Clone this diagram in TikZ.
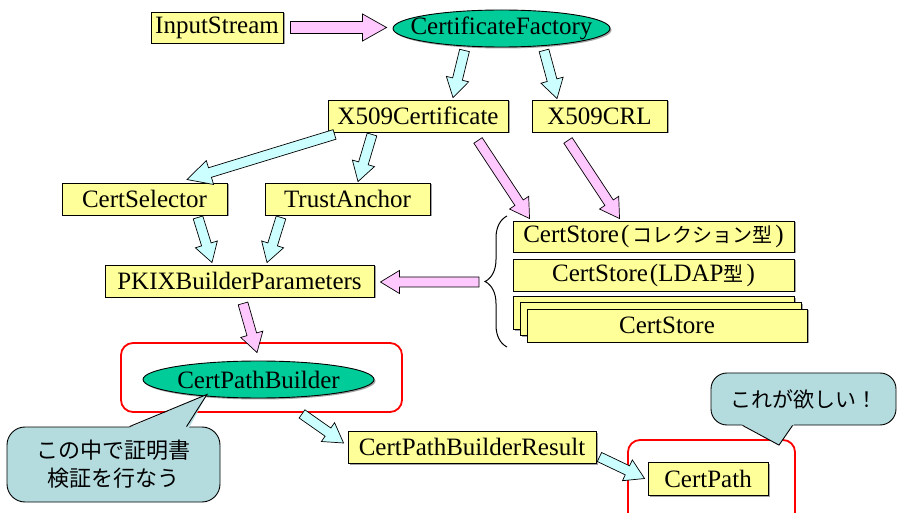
\documentclass[tikz,border=0pt]{standalone}
\usepackage{fontspec}
\setmainfont{Liberation Serif}
\newfontfamily\cjk{Noto Sans CJK JP}
\usetikzlibrary{calc,shadows,shapes.geometric,decorations.pathreplacing}

\definecolor{boxyellow}{HTML}{FFFF99}
\definecolor{classgreen}{HTML}{00CC99}
\definecolor{cyanfill}{HTML}{CCFFFF}
\definecolor{pinkfill}{HTML}{FFC8FF}
\definecolor{notefill}{HTML}{B4DCDF}

% block arrow: shaft half width, head half width, head length
\newcommand\bashaft{5pt}
\newcommand\bahead{11.5pt}
\newcommand\balen{19pt}
\newcommand\blockarrow[3][cyanfill]{%
  \coordinate (ba-s) at #2;
  \coordinate (ba-e) at #3;
  \coordinate (ba-n) at ($(ba-e)!\balen!(ba-s)$);
  \draw[arrowedge, fill=#1]
    ($(ba-s)!\bashaft!90:(ba-e)$) -- ($(ba-n)!\bashaft!-90:(ba-s)$)
    -- ($(ba-n)!\bahead!-90:(ba-s)$) -- (ba-e)
    -- ($(ba-n)!\bahead!90:(ba-s)$) -- ($(ba-n)!\bashaft!90:(ba-s)$)
    -- ($(ba-s)!\bashaft!-90:(ba-e)$) -- cycle;
}

\begin{document}
\begin{tikzpicture}[x=1pt,y=-1pt,
  label font/.style={font=\fontsize{25}{30}\selectfont},
  box/.style={draw, fill=boxyellow, line width=0.9pt, inner sep=0pt,
    minimum height=32pt, label font,
    drop shadow={shadow xshift=1.5pt, shadow yshift=-1.5pt, fill=black!60, opacity=0.6}},
  classoval/.style={ellipse, draw, fill=classgreen, line width=0.9pt, inner sep=0pt,
    drop shadow={shadow xshift=1.5pt, shadow yshift=-1.5pt, fill=black!60, opacity=0.6}},
  ovaltext/.style={label font, inner sep=0pt},
  redframe/.style={draw=red, line width=1.8pt, rounded corners=12pt, inner sep=0pt},
  note/.style={draw, fill=notefill, line width=0.9pt, rounded corners=18pt,
    inner sep=0pt, align=center},
  arrowedge/.style={draw=black, line width=0.7pt, line join=miter},
]
\useasboundingbox (0,0) rectangle (898,513);
\clip (0,0) rectangle (898,513);

% red frames
\node[redframe, minimum width=281pt, minimum height=69pt] (red1) at (261.5,377.5) {};
\node[redframe, minimum width=167pt, minimum height=110pt] (red2) at (711.5,495) {};

% classes
\node[box, minimum width=132pt, minimum height=31pt] (inp) at (217,27.5) {InputStream};
\node[classoval, minimum width=217pt, minimum height=37pt] (fact) at (501.5,28.5) {};
\node[ovaltext] at (fact.center) {CertificateFactory};
\node[box, minimum width=180pt] (x509) at (418,116) {X509Certificate};
\node[box, minimum width=135pt] (crl) at (599.5,116) {X509CRL};
\node[box, minimum width=165pt] (sel) at (144.5,199) {CertSelector};
\node[box, minimum width=165pt] (ta) at (347.5,199) {TrustAnchor};
\node[box, minimum width=269pt] (pkix) at (239.5,281) {PKIXBuilderParameters};

% cert stores
\node[box, minimum width=281pt, minimum height=31pt] (cs1) at (653.5,236.5)
  {CertStore\kern2pt(\kern3pt{\cjk\fontsize{20}{24}\selectfont コレクション型}\kern3pt)};
\node[box, minimum width=281pt] (cs2) at (653.5,275)
  {CertStore\kern2pt(LDAP{\cjk\fontsize{20}{24}\selectfont 型}\kern3pt)};
\node[box, minimum width=281pt, minimum height=33pt] (cs3a) at (653.5,313) {};
\node[box, minimum width=281pt, minimum height=33pt] (cs3b) at (660.5,319) {};
\node[box, minimum width=280pt, minimum height=33pt] (cs3) at (667,325.5) {CertStore};

% brace grouping the stores
\draw[line width=1pt, decorate, decoration={brace, amplitude=22pt}] (507,347) -- (507,216);
\coordinate (bt) at (485,282);

\node[classoval, minimum width=231pt, minimum height=37pt] (cpb) at (258.5,379.5) {};
\node[ovaltext] at (cpb.center) {CertPathBuilder};
\node[box, minimum width=248pt] (cpbr) at (472,447) {CertPathBuilderResult};
\node[box, minimum width=120pt, minimum height=33pt] (cpath) at (708,478.5) {CertPath};

% connectors
{\renewcommand\bashaft{6pt}\renewcommand\bahead{13.5pt}\renewcommand\balen{24pt}%
 \blockarrow[pinkfill]{($(inp.east)+(7,0)$)}{($(fact.west)+(-6,-1)$)}}
\blockarrow{($(fact.south)+(-37,3)$)}{($(x509.north)+(35,-2)$)}
\blockarrow{($(fact.south)+(42.5,3)$)}{($(crl.north)+(-42.5,-1)$)}
{\renewcommand\bahead{12.5pt}\renewcommand\balen{24pt}%
 \blockarrow{($(x509.south west)+(7,2)$)}{($(sel.north)+(42.5,-3)$)}}
\blockarrow{($(x509.south)+(-46,2)$)}{($(ta.north)+(10.5,-1)$)}
\blockarrow[pinkfill]{($(x509.south)+(60,8)$)}{($(cs1.north west)+(17,-2)$)}
\blockarrow[pinkfill]{($(crl.south)+(-31.5,8)$)}{($(cs1.north west)+(107,-2)$)}
\blockarrow{($(sel.south)+(53.5,2)$)}{($(pkix.north)+(-27.5,-2)$)}
\blockarrow{($(ta.south)+(-66.5,2)$)}{($(pkix.north)+(27.5,-2)$)}
\blockarrow[pinkfill]{($(bt)+(-6,0)$)}{($(pkix.east)+(6,1)$)}
\blockarrow[pinkfill]{($(pkix.south)+(3.5,6)$)}{($(cpb.north)+(-1.5,-8)$)}
\blockarrow{($(red1.south)+(40.5,1)$)}{($(cpbr.west)+(-4,-4)$)}
\blockarrow{($(cpbr.east)+(3,10)$)}{($(cpath.west)+(-3,0)$)}

% speech balloons
\node[note, minimum width=213pt, minimum height=75pt,
  font=\cjk\fontsize{22}{28}\selectfont] (n1) at (113.5,464.5)
  {この中で証明書\\検証を行なう};
\coordinate (t1) at ($(cpb.south)+(-51.5,-4)$);
\fill[notefill] ($(n1.north west)+(121,2)$) -- (t1) -- ($(n1.north west)+(182,2)$) -- cycle;
\draw[line width=0.9pt, line join=miter] ($(n1.north west)+(123,0)$) -- (t1) -- ($(n1.north west)+(180,0)$);

\node[note, rounded corners=16pt, minimum width=185pt, minimum height=52pt,
  font=\cjk\fontsize{21}{26}\selectfont] (n2) at (803.5,399)
  {これが欲しい！};
\coordinate (t2) at ($(red2.north)+(67.5,6)$);
\fill[notefill] ($(n2.south west)+(30,-2)$) -- (t2) -- ($(n2.south west)+(84,-2)$) -- cycle;
\draw[line width=0.9pt, line join=miter] ($(n2.south west)+(32,0)$) -- (t2) -- ($(n2.south west)+(82,0)$);
\end{tikzpicture}
\end{document}
